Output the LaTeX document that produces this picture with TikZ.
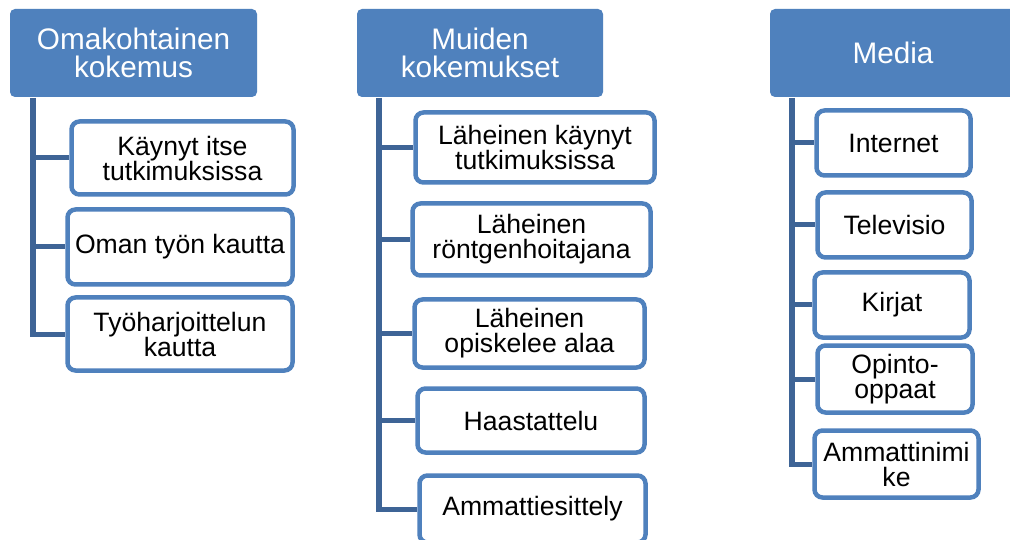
\documentclass[tikz,border=0pt]{standalone}
\usepackage{fontspec}
\setmainfont{Liberation Sans}
\usetikzlibrary{backgrounds}
\definecolor{hdrblue}{RGB}{79,129,189}
\definecolor{trunkblue}{RGB}{62,100,150}
\tikzset{
  hdr/.style={fill=hdrblue, draw=none, rounded corners=5pt, text=white, align=center,
    font=\fontsize{29.7}{27.7}\selectfont, inner sep=0pt},
  kid/.style={fill=white, draw=hdrblue, line width=4.5pt, rounded corners=8pt, text=black,
    align=center, font=\fontsize{26.6}{25}\selectfont, inner sep=0pt},
  trunk/.style={draw=trunkblue, line width=6pt},
  branch/.style={draw=trunkblue, line width=5pt}
}
\begin{document}
\begin{tikzpicture}[x=1pt,y=-1pt]
\clip (0,0) rectangle (1010,540);
% headers
\node[hdr, minimum width=247pt, minimum height=88pt] (h1) at (133.5,53) {Omakohtainen\\kokemus};
\node[hdr, minimum width=246pt, minimum height=88pt] (h2) at (480,53) {Muiden\\kokemukset};
\node[hdr, minimum width=246pt, minimum height=88pt] (h3) at (893,53) {Media};
% column 1 children
\node[kid, minimum width=222pt, minimum height=73pt] (c11) at (182.5,158) {Käynyt itse\\tutkimuksissa};
\node[kid, minimum width=225pt, minimum height=75pt] (c12) at (180,247) {Oman työn kautta};
\node[kid, minimum width=225pt, minimum height=73pt] (c13) at (180,334) {Työharjoittelun\\kautta};
% column 2 children
\node[kid, minimum width=239pt, minimum height=70pt] (c21) at (535,147.5) {Läheinen käynyt\\tutkimuksissa};
\node[kid, minimum width=238pt, minimum height=72pt] (c22) at (531.5,239.5) {Läheinen\\röntgenhoitajana};
\node[kid, minimum width=230pt, minimum height=68pt] (c23) at (529.5,333.5) {Läheinen\\opiskelee alaa};
\node[kid, minimum width=227pt, minimum height=64pt] (c24) at (531,420.5) {Haastattelu};
\node[kid, minimum width=226pt, minimum height=67pt] (c25) at (532.5,509) {Ammattiesittely};
% column 3 children
\node[kid, minimum width=154pt, minimum height=65pt] (c31) at (893.5,143) {Internet};
\node[kid, minimum width=154pt, minimum height=65pt] (c32) at (894.5,225) {Televisio};
\node[kid, minimum width=155pt, minimum height=65pt] (c33) at (892,305) {Kirjat};
\node[kid, minimum width=155pt, minimum height=67pt] (c34) at (895,379) {Opinto-\\oppaat};
\node[kid, minimum width=164pt, minimum height=67pt] (c35) at (896.5,464) {Ammattinimi\\ke};
% trunks
\coordinate (t1top) at (33,98);
\coordinate (t1bot) at (33,336);
\coordinate (t2top) at (379,98);
\coordinate (t2bot) at (379,511);
\coordinate (t3top) at (792,98);
\coordinate (t3bot) at (792,466);
\begin{pgfonlayer}{background}
\fill[white] (0,0) rectangle (1010,540);
\draw[trunk] (t1top) -- (t1bot);
\draw[trunk] (t2top) -- (t2bot);
\draw[trunk] (t3top) -- (t3bot);
\draw[branch] (33,158) -- (c11.west);
\draw[branch] (33,247) -- (c12.west);
\draw[branch] (30,334) -- (c13.west);
\draw[branch] (379,147.5) -- (c21.west);
\draw[branch] (379,239.5) -- (c22.west);
\draw[branch] (379,333.5) -- (c23.west);
\draw[branch] (379,420.5) -- (c24.west);
\draw[branch] (376,509) -- (c25.west);
\draw[branch] (792,143) -- (c31.west);
\draw[branch] (792,225) -- (c32.west);
\draw[branch] (792,305) -- (c33.west);
\draw[branch] (792,379) -- (c34.west);
\draw[branch] (789,464) -- (c35.west);
\end{pgfonlayer}
\end{tikzpicture}
\end{document}
